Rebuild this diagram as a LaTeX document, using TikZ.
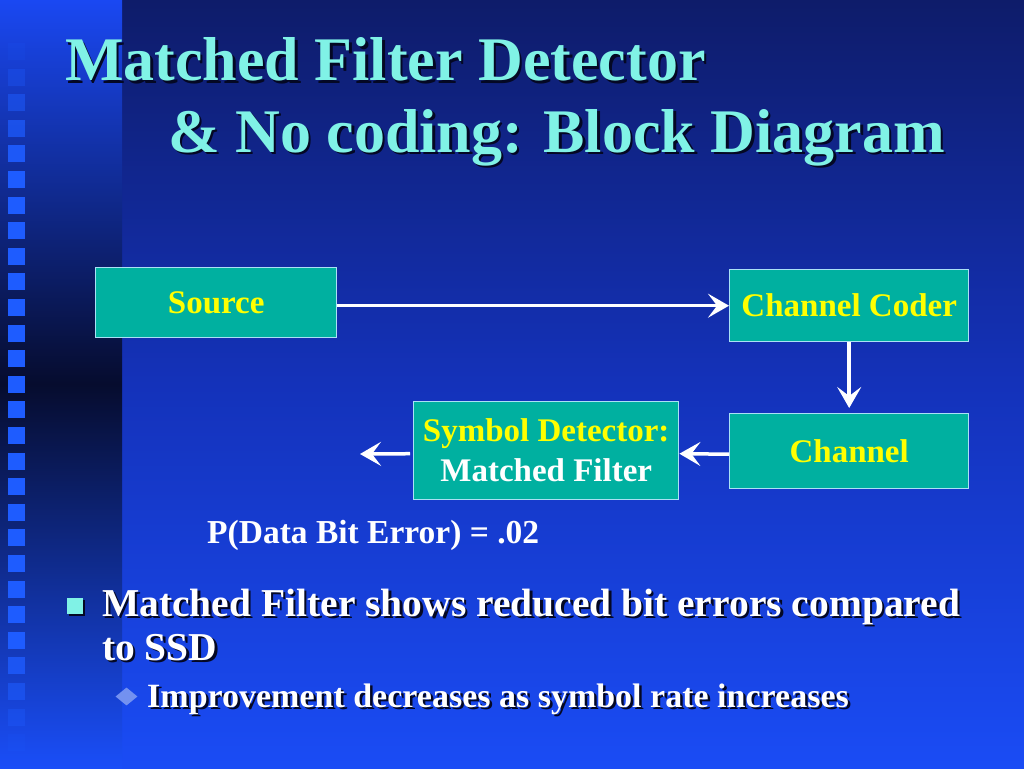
\documentclass[tikz,border=0pt]{standalone}
\usepackage{fontspec}
\setmainfont{Liberation Serif}
\usetikzlibrary{arrows.meta,shapes.geometric}
\definecolor{slidetop}{RGB}{14,28,106}
\definecolor{slidemid}{RGB}{20,50,186}
\definecolor{slidebot}{RGB}{26,76,245}
\definecolor{bandtop}{RGB}{26,72,242}
\definecolor{banddark}{RGB}{6,12,46}
\definecolor{bandbot}{RGB}{26,78,248}
\definecolor{bandsq}{RGB}{30,92,255}
\definecolor{aqua}{RGB}{128,242,230}
\definecolor{blockfill}{RGB}{0,176,160}
\definecolor{blockline}{RGB}{170,225,245}
\definecolor{labelyellow}{RGB}{255,255,0}
\definecolor{shadowcol}{RGB}{4,8,36}
\definecolor{diamondcol}{RGB}{115,145,240}
\newcommand{\dropnode}[4]{% style, name, position, text
  \node[#1, dropshade] at #3 {#4};
  \node[#1] (#2) at #3 {#4};}
\tikzset{
  block/.style={draw=blockline, line width=1.4pt, fill=blockfill, anchor=north west, inner sep=0pt,
    align=center, text=labelyellow, font=\fontsize{33}{40}\selectfont\bfseries},
  flow/.style={draw=white, line width=3.5pt, -{Stealth[length=21pt, width=24pt, inset=9pt]}},
  dropshade/.style={text=shadowcol, xshift=2.5pt, yshift=-2.5pt},
  heading/.style={anchor=base west, inner sep=0pt, text=aqua, font=\fontsize{62}{74}\selectfont\bfseries},
  bullet/.style={anchor=base west, inner sep=0pt, text=white, font=\fontsize{39.5}{44}\selectfont\bfseries},
  subbullet/.style={anchor=base west, inner sep=0pt, text=white, font=\fontsize{34}{40}\selectfont\bfseries},
  note/.style={anchor=base west, inner sep=0pt, text=white, font=\fontsize{33.5}{40}\selectfont\bfseries},
  bulletsq/.style={rectangle, fill=aqua, minimum size=16pt, inner sep=0pt},
  bulletdm/.style={diamond, fill=diamondcol, minimum width=22pt, minimum height=18pt, inner sep=0pt},
}
\begin{document}
\begin{tikzpicture}[x=1pt, y=-1pt]
  \useasboundingbox (0,0) rectangle (1024,768);
  % background and left band
  \shade[top color=slidetop, bottom color=slidebot, middle color=slidemid] (0,0) rectangle (1024,768);
  \shade[top color=bandtop, bottom color=bandbot, middle color=banddark] (0,0) rectangle (122,768);
  \foreach \k in {0,...,27}{
    \pgfmathsetmacro\op{min(1,(\k+0.6)/5,(27.6-\k)/4.5)}
    \fill[bandsq, opacity=\op] (8,{43+25.6*\k}) rectangle ++(17,17);
  }
  % title
  \dropnode{heading}{title1}{(65,81)}{Matched Filter Detector}
  \dropnode{heading}{title2}{(168,152)}{\& No coding: Block Diagram}
  % block diagram
  \node[block, minimum width=241pt, minimum height=70pt] (source) at (95,267) {Source};
  \node[block, minimum width=239pt, minimum height=72pt] (coder) at (729,269) {Channel Coder};
  \node[block, minimum width=239pt, minimum height=75pt] (channel) at (729,413) {Channel};
  \node[block, minimum width=265pt, minimum height=98pt] (detector) at (413,401) {Symbol Detector:\\\textcolor{white}{Matched Filter}};
  \coordinate (out) at (360,454);
  \draw[flow] (source.east |- coder.west) -- (coder.west);
  \draw[flow, shorten >=5pt] (coder.south) -- (channel.north);
  \draw[flow] ([yshift=-3pt]channel.west) -- ([yshift=-3pt]detector.east);
  \draw[flow, shorten <=3pt] ([yshift=-3pt]detector.west) -- (out);
  \node[note] (perr) at (207,543) {P(Data Bit Error) = .02};
  % bullets
  \node[bulletsq, fill=shadowcol, xshift=2pt, yshift=-2pt] at (74.5,606) {};
  \node[bulletsq] (sq) at (74.5,606) {};
  \dropnode{bullet}{point1}{(102,616)}{Matched Filter shows reduced bit errors compared}
  \dropnode{bullet}{point2}{(102,660)}{to SSD}
  \node[bulletdm] (dm) at (126.5,696.5) {};
  \dropnode{subbullet}{subpoint}{(147,707)}{Improvement decreases as symbol rate increases}
\end{tikzpicture}
\end{document}
